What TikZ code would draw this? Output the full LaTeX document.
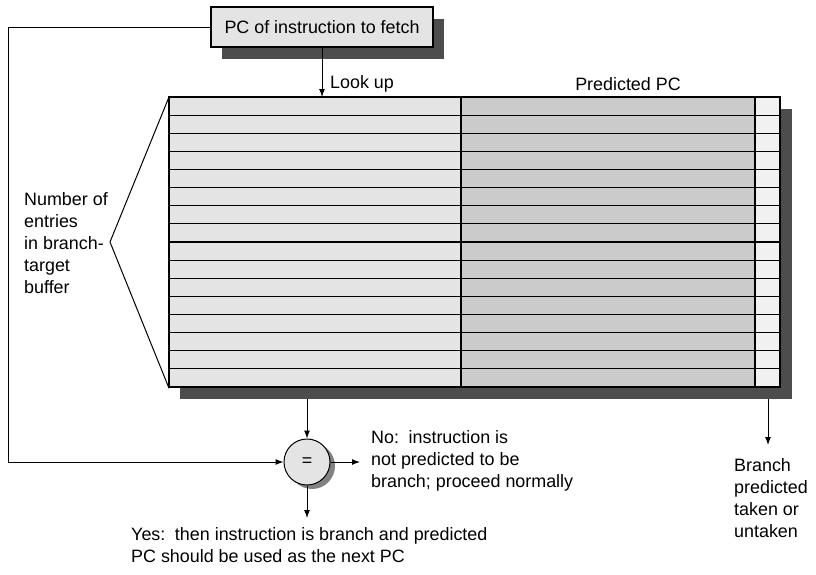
\documentclass[tikz,border=0pt]{standalone}
\usepackage{fontspec}
\setmainfont{Liberation Sans}
\usetikzlibrary{arrows.meta, positioning, calc}
\definecolor{btbLight}{RGB}{228,228,228}
\definecolor{btbMid}{RGB}{203,203,203}
\definecolor{btbPale}{RGB}{241,241,241}
\definecolor{btbShadow}{RGB}{77,77,77}

\tikzset{
  arr/.style={-{Latex[length=8pt,width=6pt]}, line width=1pt},
  wire/.style={line width=1pt},
  cell/.style={draw, line width=1.2pt},
  lbl/.style={align=left, inner sep=0pt, font=\fontsize{17.9}{22}\selectfont},
}

\begin{document}
\begin{tikzpicture}[x=1pt, y=-1pt]
\useasboundingbox (0,0) rectangle (816,574);

% fetch box with its shadow
\fill[btbShadow] (222,19) rectangle (444,59);
\node[cell, fill=btbLight, minimum width=222pt, minimum height=40pt,
      inner sep=0pt, font=\fontsize{17.9}{22}\selectfont] (pcbox) at (322,27)
      {PC of instruction to fetch};

% branch-target buffer
\fill[btbShadow] (180,109) rectangle (792,399);
\node[cell, minimum width=611pt, minimum height=290pt, inner sep=0pt,
      anchor=north west] (btb) at (169,97) {};
\filldraw[cell, fill=btbLight] (169,97) rectangle (461,387);
\filldraw[cell, fill=btbMid] (461,97) rectangle (755,387);
\filldraw[cell, fill=btbPale] (755,97) rectangle (780,387);
\foreach \k in {1,...,15}
  \draw[cell] (169,{97+\k*18.125}) -- (780,{97+\k*18.125});

\node[lbl, anchor=west] (lookup) at (330,84) {Look up};
\node[lbl] (predpc) at (628,84) {Predicted PC};

% entries bracket
\coordinate (apex) at (110,242);
\draw[wire] (btb.north west) -- (apex) -- (btb.south west);
\node[lbl, anchor=west] (nentries) at (24,243)
  {Number of\\entries\\in branch-\\target\\buffer};

% comparator
\fill[btbShadow!70] (312,466) circle (23);
\node[circle, draw, line width=1pt, fill=btbLight, minimum size=46pt,
      inner sep=0pt, font=\fontsize{17.9}{22}\selectfont] (eq) at (307,462) {=};

\node[lbl, anchor=west] (nolbl) at (371,461)
  {No:\, instruction is\\not predicted to be\\branch; proceed normally};
\node[lbl, anchor=west] (yeslbl) at (131,545)
  {Yes:\, then instruction is branch and predicted\\PC should be used as the next PC};
\node[lbl, anchor=west] (takenlbl) at (734,498)
  {Branch\\predicted\\taken or\\untaken};

% connectors
\coordinate (bend) at (8,462);
\coordinate (eqtop) at (307,399);
\coordinate (noend) at (360,462);
\coordinate (yesend) at (307,518);
\coordinate (takentop) at (768,399);
\coordinate (takenend) at (768,445);

\draw[arr] (pcbox.south) -- (pcbox.south |- btb.north);
\draw[arr] (pcbox.west) -| (bend) -- (eq.west);
\draw[arr] (eqtop) -- (eq.north);
\draw[arr] (eq.east) -- (noend);
\draw[arr] (eq.south) -- (yesend);
\draw[arr] (takentop) -- (takenend);
\end{tikzpicture}
\end{document}
